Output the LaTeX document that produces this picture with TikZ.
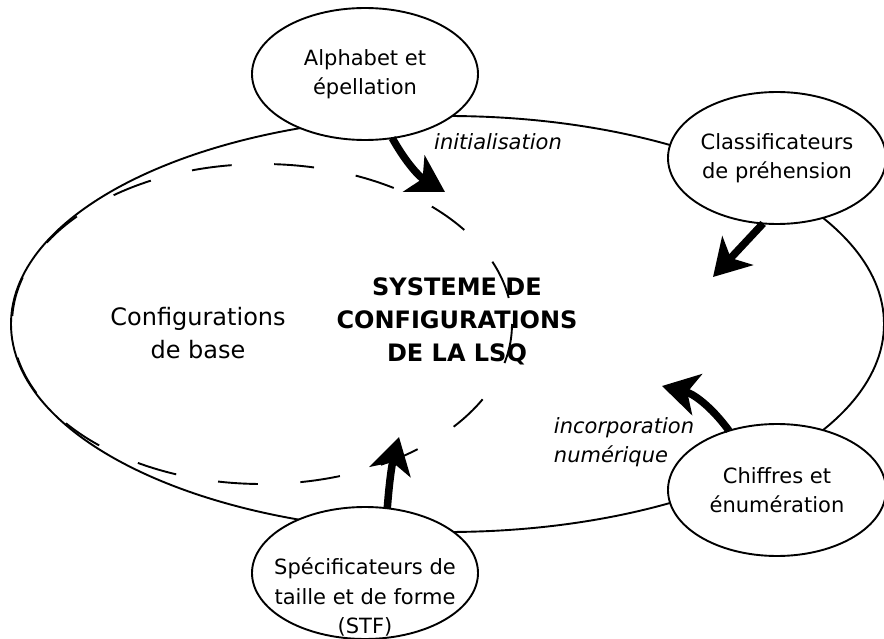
\documentclass[tikz,border=0pt]{standalone}
\usepackage{fontspec}
\setmainfont{DejaVu Sans}
\usetikzlibrary{shapes.geometric,arrows.meta}

\begin{document}
\begin{tikzpicture}[x=1pt, y=-1pt, line width=1.9pt,
  bulle/.style={ellipse, draw, fill=white, minimum width=226pt, minimum height=132pt, inner sep=0pt, outer sep=0pt},
  petit/.style={font=\fontsize{21}{29.5}\selectfont, align=center},
  grand/.style={font=\fontsize{24}{33}\selectfont, align=center},
  etiquette/.style={font=\fontsize{21}{29.5}\selectfont\itshape, align=left, inner sep=0pt},
  fleche/.style={line width=7.5pt, -{Stealth[length=36pt, width=42pt, inset=10pt]}}]
  \useasboundingbox (0,0) rectangle (884,639);
  % grand systeme et configurations de base
  \draw (447.5,324) ellipse [x radius=436.5, y radius=208];
  \draw[dash pattern=on 40pt off 42.5pt] (262,324) ellipse [x radius=250, y radius=160];
  \node[grand, font=\fontsize{24}{33}\selectfont\bfseries] (systeme) at (457,321) {SYSTEME DE\\CONFIGURATIONS\\DE LA LSQ};
  \node[grand] (base) at (198,333) {Configurations\\de base};
  % les quatre sous-systemes
  \node[bulle, petit] (alphabet) at (365,74) {Alphabet et\\épellation};
  \node[bulle, petit, minimum width=218pt] (classif) at (777,158) {Classificateurs\\de préhension};
  \node[bulle, petit, minimum width=218pt] (chiffres) at (777,490) {Chiffres et\\énumération};
  \node[bulle] (stf) at (365,573) {};
  \node[petit] (stftexte) at (365,597) {Spécificateurs de\\taille et de forme\\(STF)};
  % etiquettes
  \node[etiquette] (init) at (498,142) {initialisation};
  \node[etiquette, anchor=west] (incorp) at (553,442) {incorporation\\numérique};
  % fleches
  \coordinate (c1) at (445,192);
  \coordinate (c2) at (713,277);
  \coordinate (c3) at (662,386);
  \coordinate (c4) at (399,437);
  \draw[fleche] (alphabet.-67) to[bend right=15] (c1);
  \draw[fleche] (classif.-102) -- (c2);
  \draw[fleche] (chiffres.129) to[bend right=20] (c3);
  \draw[fleche] (stf.71) to[bend left=5] (c4);
\end{tikzpicture}
\end{document}
